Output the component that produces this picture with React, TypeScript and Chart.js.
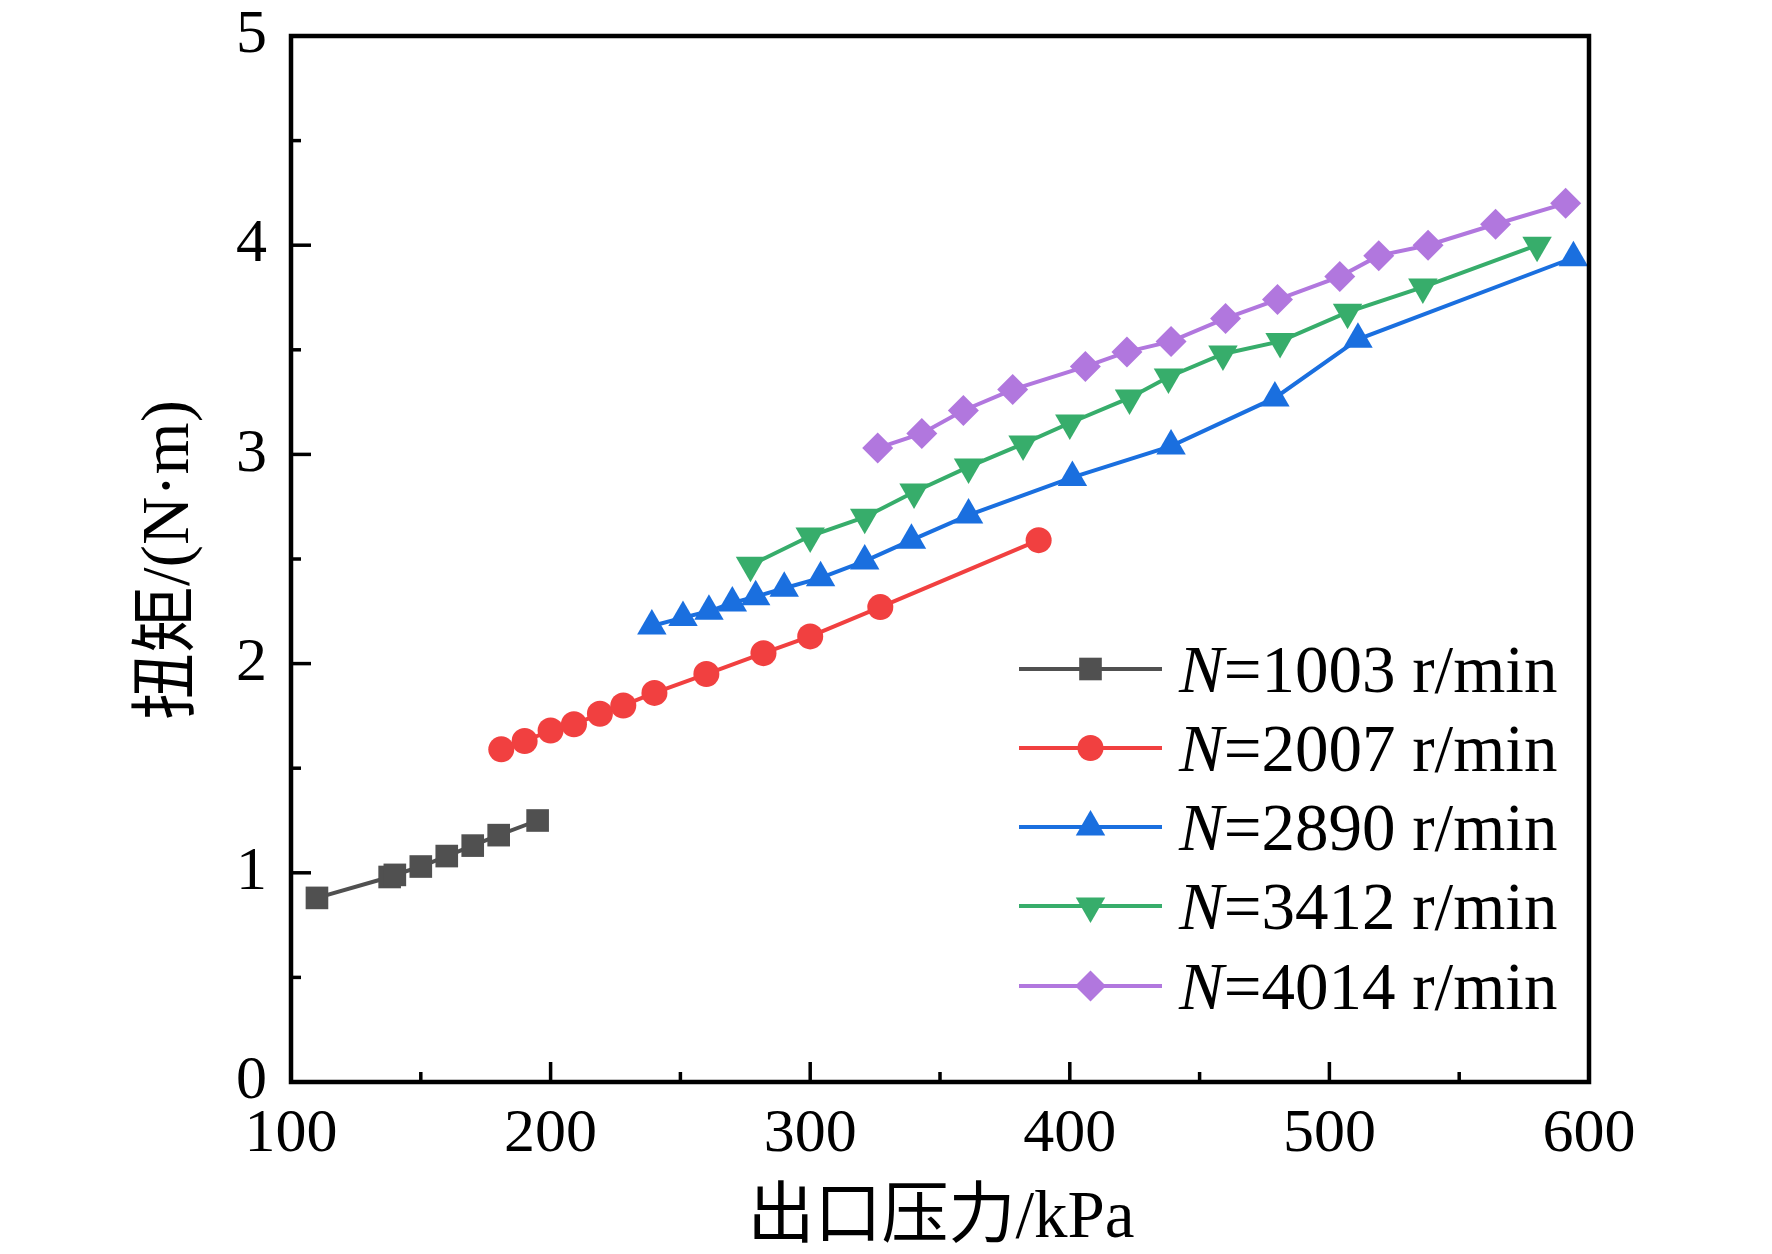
import React, { useEffect, useRef } from "react";
import { Chart, registerables } from "chart.js";

Chart.register(...registerables);

// ---- data ----
const pressure1003 = [110, 138, 140, 150, 160, 170, 180, 195];
const torque1003 = [0.88, 0.98, 0.99, 1.03, 1.08, 1.13, 1.18, 1.25];

const pressure2007 = [181, 190, 200, 209, 219, 228, 240, 260, 282, 300, 327, 388];
const torque2007 = [1.59, 1.63, 1.68, 1.71, 1.76, 1.8, 1.86, 1.95, 2.05, 2.13, 2.27, 2.59];

const pressure2890 = [239, 251, 261, 270, 279, 290, 304, 321, 339, 361, 401, 439, 479, 511, 594];
const torque2890 = [2.18, 2.22, 2.25, 2.29, 2.32, 2.36, 2.41, 2.49, 2.59, 2.71, 2.89, 3.04, 3.27, 3.55, 3.94];

const pressure3412 = [277, 300, 321, 340, 361, 382, 400, 423, 438, 459, 481, 507, 536, 580];
const torque3412 = [2.47, 2.61, 2.7, 2.82, 2.94, 3.05, 3.15, 3.27, 3.37, 3.48, 3.54, 3.68, 3.8, 4.0];

const pressure4014 = [326, 343, 359, 378, 406, 422, 439, 460, 480, 504, 519, 538, 564, 591];
const torque4014 = [3.03, 3.1, 3.21, 3.31, 3.42, 3.49, 3.54, 3.65, 3.74, 3.85, 3.95, 4.0, 4.1, 4.2];

const speedLabels = ["1003", "2007", "2890", "3412", "4014"];
const xTitle = "出口压力/kPa";
const yTitle = "扭矩/(N·m)";
const xMin = 100, xMax = 600, xStep = 100;
const yMin = 0, yMax = 5, yStep = 1;

const colors = ["#505050", "#F14040", "#1A6FDF", "#37AD6B", "#B177DE"];
const styles = ["rect", "circle", "triangle", "triangle", "rectRot"];
const rotations = [0, 0, 0, 180, 0];
const radii = [16, 13, 17, 17, 15.5];

const FONT = "'Liberation Serif', 'Times New Roman', 'Noto Sans CJK SC', serif";

function drawMarker(ctx: CanvasRenderingContext2D, style: string, x: number, y: number, r: number, rot: number) {
  ctx.beginPath();
  if (style === "rect") {
    const s = r * Math.SQRT1_2;
    ctx.rect(x - s, y - s, 2 * s, 2 * s);
  } else if (style === "circle") {
    ctx.arc(x, y, r, 0, Math.PI * 2);
  } else if (style === "triangle") {
    const a0 = (rot * Math.PI) / 180;
    for (let k = 0; k < 3; k++) {
      const a = a0 + (k * 2 * Math.PI) / 3;
      const px = x + Math.sin(a) * r;
      const py = y - Math.cos(a) * r;
      if (k === 0) ctx.moveTo(px, py);
      else ctx.lineTo(px, py);
    }
    ctx.closePath();
  } else if (style === "rectRot") {
    ctx.moveTo(x, y - r);
    ctx.lineTo(x + r, y);
    ctx.lineTo(x, y + r);
    ctx.lineTo(x - r, y);
    ctx.closePath();
  }
  ctx.fill();
}

export default function App() {
  const ref = useRef<HTMLCanvasElement>(null);

  useEffect(() => {
    const canvas = ref.current!;
    const xs = [pressure1003, pressure2007, pressure2890, pressure3412, pressure4014];
    const ys = [torque1003, torque2007, torque2890, torque3412, torque4014];

    const datasets = xs.map((px, i) => ({
      label: `N=${speedLabels[i]} r/min`,
      data: px.map((x, j) => ({ x, y: ys[i][j] })),
      borderColor: colors[i],
      backgroundColor: colors[i],
      borderWidth: 4,
      pointStyle: styles[i] as any,
      pointRotation: rotations[i],
      pointRadius: radii[i],
      pointBorderWidth: 0,
      pointBackgroundColor: colors[i],
      pointBorderColor: colors[i],
      tension: 0,
      clip: false as any,
    }));

    const framePlugin = {
      id: "frame",
      afterDraw(chart: any) {
        const ctx: CanvasRenderingContext2D = chart.ctx;
        const { left, right, top, bottom } = chart.chartArea;
        const sx = chart.scales.x;
        const sy = chart.scales.y;
        ctx.save();
        ctx.strokeStyle = "#000";
        // ticks (inward)
        ctx.lineWidth = 3.5;
        for (let v = xMin; v <= xMax + 1e-9; v += xStep / 2) {
          const px = sx.getPixelForValue(v);
          const major = Math.abs((v - xMin) % xStep) < 1e-6;
          const len = major ? 20 : 10;
          ctx.beginPath();
          ctx.moveTo(px, bottom);
          ctx.lineTo(px, bottom - len);
          ctx.stroke();
        }
        for (let v = yMin; v <= yMax + 1e-9; v += yStep / 2) {
          const py = sy.getPixelForValue(v);
          const major = Math.abs((v - yMin) % yStep) < 1e-6;
          const len = major ? 20 : 10;
          ctx.beginPath();
          ctx.moveTo(left, py);
          ctx.lineTo(left + len, py);
          ctx.stroke();
        }
        // frame
        ctx.lineWidth = 4.5;
        ctx.strokeRect(left, top, right - left, bottom - top);

        // axis titles
        ctx.fillStyle = "#000";
        ctx.font = `67px ${FONT}`;
        ctx.textAlign = "center";
        ctx.textBaseline = "middle";
        ctx.fillText(xTitle, (left + right) / 2 + 1, 1219);
        ctx.save();
        ctx.translate(170, 560);
        ctx.rotate(-Math.PI / 2);
        ctx.fillText(yTitle, 0, 0);
        ctx.restore();

        // legend
        const lx0 = 1019, lx1 = 1162, tx = 1179;
        const rowY = [669, 748, 827, 906, 986];
        chart.data.datasets.forEach((ds: any, i: number) => {
          const y = rowY[i];
          ctx.strokeStyle = colors[i];
          ctx.lineWidth = 4;
          ctx.beginPath();
          ctx.moveTo(lx0, y);
          ctx.lineTo(lx1, y);
          ctx.stroke();
          ctx.fillStyle = colors[i];
          drawMarker(ctx, styles[i], (lx0 + lx1) / 2, y, radii[i], rotations[i]);
          ctx.fillStyle = "#000";
          ctx.textAlign = "left";
          ctx.textBaseline = "alphabetic";
          ctx.font = `italic 67px ${FONT}`;
          ctx.fillText("N", tx, y + 23);
          const w = ctx.measureText("N").width;
          ctx.font = `67px ${FONT}`;
          ctx.fillText(`=${speedLabels[i]} r/min`, tx + w, y + 23);
        });
        ctx.restore();
      },
    };

    const xTickFont = { family: FONT, size: 62 };
    const yTickFont = { family: FONT, size: 62, lineHeight: 0.3 };
    const chart = new Chart(canvas, {
      type: "line",
      data: { datasets: datasets as any },
      options: {
        responsive: false,
        devicePixelRatio: 1,
        animation: false,
        layout: { padding: { top: 36, right: 183, left: 0, bottom: 0 } },
        plugins: { legend: { display: false }, tooltip: { enabled: false } },
        scales: {
          x: {
            type: "linear",
            min: xMin,
            max: xMax,
            ticks: { stepSize: xStep, font: xTickFont, color: "#000", padding: 16, maxRotation: 0, autoSkip: false },
            grid: { display: false, drawTicks: false },
            border: { display: false },
            afterFit(s: any) {
              s.height = 172;
            },
          },
          y: {
            type: "linear",
            min: yMin,
            max: yMax,
            ticks: { stepSize: yStep, font: yTickFont, color: "#000", padding: 24 },
            grid: { display: false, drawTicks: false },
            border: { display: false },
            afterFit(s: any) {
              s.width = 291;
            },
          },
        },
      } as any,
      plugins: [framePlugin],
    });
    return () => chart.destroy();
  }, []);

  return (
    <div style={{ position: "fixed", left: 0, top: 0, width: 1772, height: 1254, background: "#fff" }}>
      <canvas ref={ref} width={1772} height={1254} style={{ width: 1772, height: 1254, display: "block" }} />
    </div>
  );
}
